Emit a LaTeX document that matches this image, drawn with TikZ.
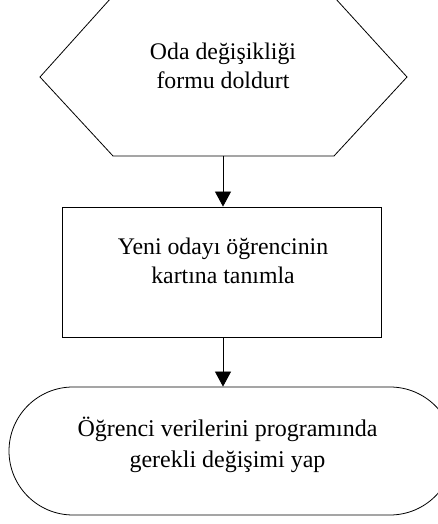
\documentclass[tikz,border=0pt]{standalone}
\usepackage{fontspec}
\setmainfont{Liberation Serif}
\usetikzlibrary{arrows.meta,shapes.misc}
\tikzset{
  outline/.style={draw=black, line width=0.8pt},
  label/.style={align=center, font=\fontsize{23.8}{29}\selectfont, inner sep=0pt},
  flow/.style={draw=black, line width=0.8pt, -{Triangle[width=16pt,length=15pt]}}
}
\begin{document}
\begin{tikzpicture}[x=1pt,y=1pt]
\useasboundingbox (0,0) rectangle (438,524);
\clip (0,0) rectangle (438,524);
% hexagon (top cut by the page)
\draw[outline] (111,526) -- (335,526) -- (407,447) -- (334,368) -- (113,368) -- (40,447) -- cycle;
\coordinate (hexbot) at (223,368);
\node[label] (hextext) at (223,458.4) {Oda değişikliği\\formu doldurt};
% process box
\node[outline, rectangle, minimum width=319pt, minimum height=130pt, inner sep=0pt] (box) at (221.5,252) {};
\node[label] (boxtext) at (223,263) {Yeni odayı öğrencinin\\kartına tanımla};
% terminator
\node[outline, rounded rectangle, minimum width=445pt, minimum height=128pt, inner sep=0pt] (term) at (231.5,73) {};
\node[label, font=\fontsize{24}{31.5}\selectfont] (termtext) at (227.5,79) {Öğrenci verilerini programında\\gerekli değişimi yap};
% connectors
\draw[flow] (hexbot) -- (hexbot |- box.north);
\draw[flow] (hexbot |- box.south) -- (hexbot |- term.north);
\end{tikzpicture}
\end{document}
